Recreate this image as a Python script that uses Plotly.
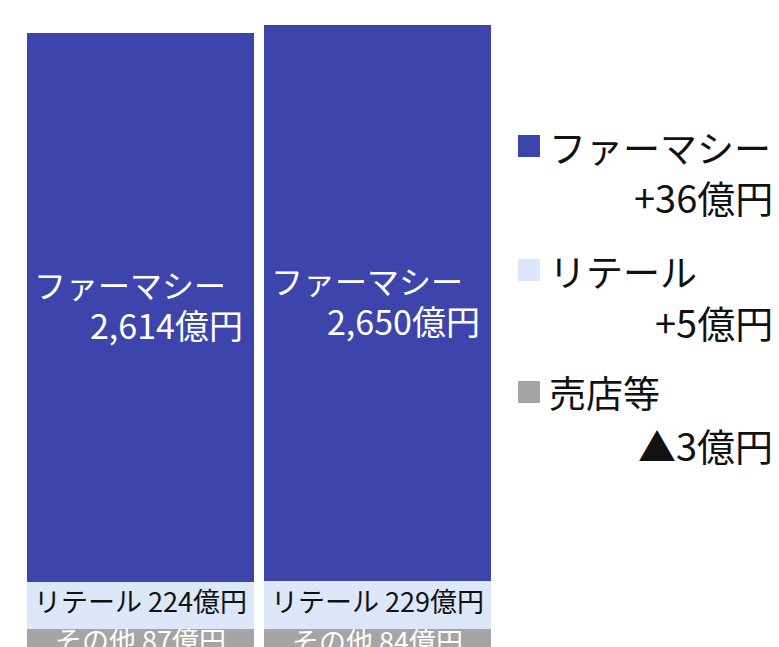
import plotly.graph_objects as go

# ---- data ----
periods = [0, 1]
other_vals = [87, 84]
retail_vals = [224, 229]
pharmacy_vals = [2614, 2650]

legend_names = ["ファーマシー", "リテール", "売店等"]
legend_changes = ["+36億円", "+5億円", "▲3億円"]

# ---- styles ----
C_PHARM = "#3D45AD"
C_RETAIL = "#DCE7FA"
C_OTHER = "#A5A5A5"
FONT = "Noto Sans CJK JP"
OFF = 8                      # page body margin
W, H = 779 - OFF, 647 - OFF  # figure sized so it ends at window edge
BAR_W = 0.958
SPACING = 237                # px between bar centres
C0 = 140.5 - OFF             # px of first bar centre in figure

fig = go.Figure()
for name, vals, col in [("その他", other_vals, C_OTHER),
                        ("リテール", retail_vals, C_RETAIL),
                        ("ファーマシー", pharmacy_vals, C_PHARM)]:
    fig.add_trace(go.Bar(x=periods, y=vals, name=name, marker_color=col,
                         marker_line_width=0, width=BAR_W, hoverinfo="skip"))

def fmt(v):
    return f"{v:,}億円"

ann = []
for i, x in enumerate(periods):
    o, r, p = other_vals[i], retail_vals[i], pharmacy_vals[i]
    ann.append(dict(x=x, y=o / 2, xref="x", yref="y", text=f"その他 {fmt(o)}",
                    showarrow=False, font=dict(family=FONT, size=27, color="white"),
                    xanchor="center", yanchor="middle", yshift=-2))
    ann.append(dict(x=x, y=o + r / 2, xref="x", yref="y", text=f"リテール {fmt(r)}",
                    showarrow=False, font=dict(family=FONT, size=27, color="#111111"),
                    xanchor="center", yanchor="middle", yshift=5))
    ymid = o + r + p / 2
    ann.append(dict(x=x - BAR_W / 2, y=ymid, xref="x", yref="y", text="ファーマシー",
                    showarrow=False, font=dict(family=FONT, size=32, color="white"),
                    xanchor="left", yanchor="middle", xshift=5, yshift=23))
    ann.append(dict(x=x + BAR_W / 2, y=ymid, xref="x", yref="y", text=fmt(p),
                    showarrow=False, font=dict(family=FONT, size=34, color="white"),
                    xanchor="right", yanchor="middle", xshift=-9, yshift=-17))

def px(xp):
    return (xp - OFF) / W

def py(yp):
    return 1 - (yp - OFF) / H

legend_cols = [C_PHARM, C_RETAIL, C_OTHER]
name_y = [147, 271, 392]
change_y = [196, 321, 444]
sq_y = [146, 270, 392]
shapes = []
for k in range(3):
    ann.append(dict(x=px(547), y=py(name_y[k]), xref="paper", yref="paper",
                    text=legend_names[k], showarrow=False,
                    font=dict(family=FONT, size=37, color="#111111"),
                    xanchor="left", yanchor="middle"))
    ann.append(dict(x=px(775), y=py(change_y[k]), xref="paper", yref="paper",
                    text=legend_changes[k], showarrow=False,
                    font=dict(family=FONT, size=38, color="#111111"),
                    xanchor="right", yanchor="middle"))
    shapes.append(dict(type="rect", xref="paper", yref="paper",
                       x0=px(518), x1=px(540), y0=py(sq_y[k] - 11), y1=py(sq_y[k] + 11),
                       fillcolor=legend_cols[k], line_width=0))

x0 = -C0 / SPACING
x1 = (W - C0) / SPACING
fig.update_layout(
    width=W, height=H, autosize=False,
    margin=dict(l=0, r=0, t=0, b=0),
    barmode="stack", showlegend=False,
    plot_bgcolor="white", paper_bgcolor="white",
    xaxis=dict(range=[x0, x1], visible=False, fixedrange=True),
    yaxis=dict(range=[0, 3043], visible=False, fixedrange=True),
    annotations=ann, shapes=shapes,
)
fig.write_html("out.html")
